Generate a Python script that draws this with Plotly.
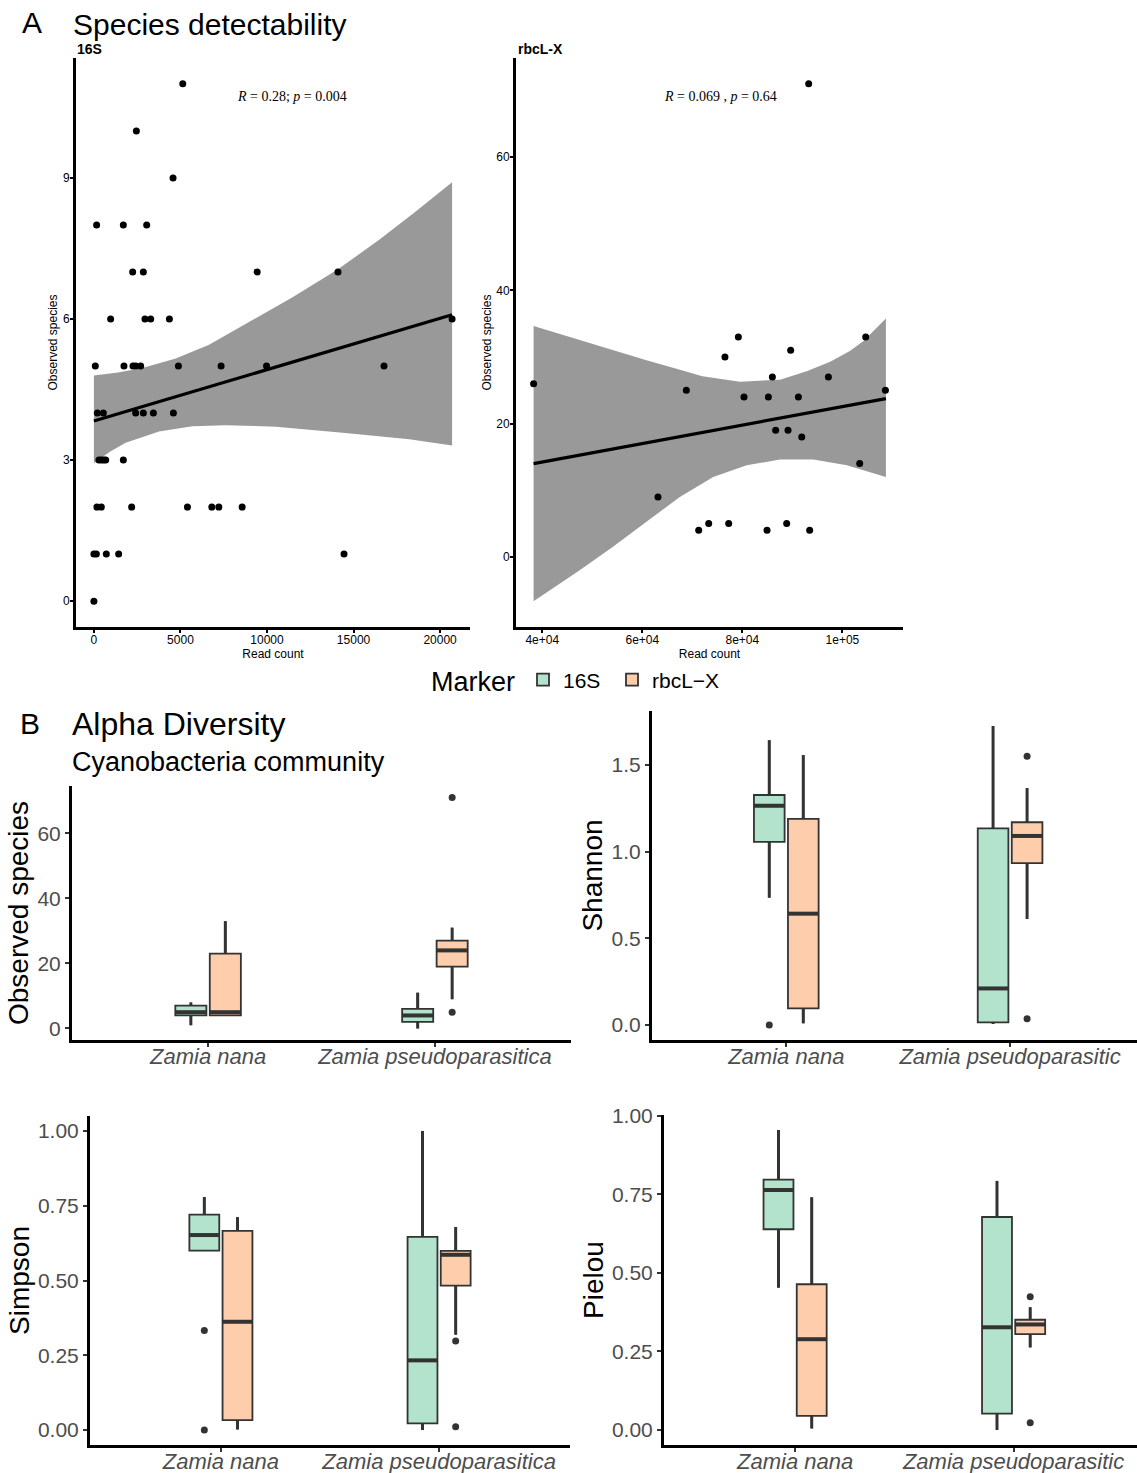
import plotly.graph_objects as go

W, H = 1137, 1473
def fx(x):
    return x / W
def fy(y):
    return 1 - y / H

FONT = "Liberation Sans, Arial, Helvetica, sans-serif"
SERIF = "Liberation Serif, Times New Roman, serif"

# ---------------- Panel A data ----------------
# 16S: read count vs observed species
read_16s = [5133, 2453, 4572, 156, 1700, 3049, 2239, 2856, 9431, 14099,
            966, 2950, 3280, 4362, 20693, 81, 1736, 2257, 2412, 2702,
            4882, 7347, 9973, 16759, 197, 544, 2412, 2856, 3436, 4593,
            290, 430, 560, 680, 1700, 174, 428, 2181, 5403, 6812,
            7217, 8565, 0, 139, 717, 1429, 14450, 0]
obs_16s_pts = [11, 10, 9, 8, 8, 8, 7, 7, 7, 7,
               6, 6, 6, 6, 6, 5, 5, 5, 5, 5,
               5, 5, 5, 5, 4, 4, 4, 4, 4, 4,
               3, 3, 3, 3, 3, 2, 2, 2, 2, 2,
               2, 2, 1, 1, 1, 1, 1, 0]
# fitted line and 95% confidence band
fit_16s_x = [0, 20693]
fit_16s_y = [3.83, 6.09]
band_16s_up_x = [0, 1400, 2800, 4727, 6653, 9007, 11500, 14080, 16500, 18500, 20693]
band_16s_up_y = [4.80, 4.86, 4.96, 5.16, 5.45, 5.95, 6.47, 7.05, 7.69, 8.26, 8.91]
band_16s_lo_x = [0, 900, 1834, 3760, 5692, 7619, 10511, 14370, 18223, 20693]
band_16s_lo_y = [2.93, 3.17, 3.37, 3.61, 3.72, 3.74, 3.71, 3.58, 3.44, 3.31]

# rbcL-X
read_rbcl = [93260, 79200, 76520, 89660, 104660, 86000, 97200, 38260, 68800, 80330,
             85200, 91200, 108600, 86660, 89130, 91870, 103460, 63130, 71270, 73270,
             77270, 84930, 88860, 93460]
obs_rbcl_pts = [71, 33, 30, 31, 33, 27, 27, 26, 25, 24,
                24, 24, 25, 19, 19, 18, 14, 9, 4, 5,
                5, 4, 5, 4]
fit_rbcl_x = [38260, 108700]
fit_rbcl_y = [14.0, 23.76]
band_rbcl_up_x = [38260, 47500, 54000, 60830, 67000, 72000, 79520, 87530, 93000, 97550, 101500, 104220, 108700]
band_rbcl_up_y = [34.65, 32.5, 31.0, 29.5, 28.2, 27.1, 26.3, 26.6, 27.9, 29.3, 30.9, 32.4, 35.76]
band_rbcl_lo_x = [38260, 47470, 54140, 60830, 67500, 74170, 80860, 87530, 94200, 100900, 108700]
band_rbcl_lo_y = [-6.65, -2.0, 1.5, 5.25, 9.0, 12.0, 13.75, 14.6, 14.6, 13.75, 12.0]

stat_16s = "<i>R</i> = 0.28; <i>p</i> = 0.004"
stat_rbcl = "<i>R</i> = 0.069 , <i>p</i> = 0.64"

x16_ticks = [0, 5000, 10000, 15000, 20000]
x16_text = ["0", "5000", "10000", "15000", "20000"]
y16_ticks = [0, 3, 6, 9]
xr_ticks = [40000, 60000, 80000, 100000]
xr_text = ["4e+04", "6e+04", "8e+04", "1e+05"]
yr_ticks = [0, 20, 40, 60]

# ---------------- Panel B data ----------------
species_left = ["Zamia nana", "Zamia pseudoparasitica"]
species_right = ["Zamia nana", "Zamia pseudoparasitic"]
legend_title = "Marker"
marker_names = ["16S", "rbcL\u2212X"]
marker_fill = ["#B3E2CD", "#FDCDAC"]

# per species: [lower whisker, q1, median, q3, upper whisker]
obs_16s = [[1, 4, 5, 7, 8], [0, 2, 4, 6, 11]]
obs_rbcl = [[4, 4, 5, 23, 33], [9, 19, 24, 27, 31]]
obs_16s_out = [[], []]
obs_rbcl_out = [[], [5, 71]]

shannon_16s = [[0.734, 1.056, 1.264, 1.326, 1.642], [0.006, 0.015, 0.211, 1.134, 1.724]]
shannon_rbcl = [[0.010, 0.096, 0.642, 1.188, 1.556], [0.611, 0.933, 1.090, 1.169, 1.366]]
shannon_16s_out = [[0.0], []]
shannon_rbcl_out = [[], [1.55, 0.036]]

simpson_16s = [[0.600, 0.600, 0.652, 0.720, 0.779], [0.0, 0.022, 0.233, 0.646, 1.0]]
simpson_rbcl = [[0.002, 0.033, 0.362, 0.666, 0.712], [0.319, 0.483, 0.586, 0.599, 0.679]]
simpson_16s_out = [[0.333, 0.0], []]
simpson_rbcl_out = [[], [0.298, 0.011]]

pielou_16s = [[0.453, 0.639, 0.764, 0.797, 0.955], [0.0, 0.052, 0.327, 0.678, 0.793]]
pielou_rbcl = [[0.005, 0.045, 0.289, 0.464, 0.741], [0.263, 0.305, 0.336, 0.351, 0.391]]
pielou_16s_out = [[], []]
pielou_rbcl_out = [[], [0.424, 0.023]]

obs_ticks = [0, 20, 40, 60]
obs_ticktext = ["0", "20", "40", "60"]
shannon_ticks = [0, 0.5, 1.0, 1.5]
shannon_ticktext = ["0.0", "0.5", "1.0", "1.5"]
unit_ticks = [0, 0.25, 0.5, 0.75, 1.0]
unit_ticktext = ["0.00", "0.25", "0.50", "0.75", "1.00"]

# ---------------- Figure ----------------
fig = go.Figure()

def expand(vals, frac=0.05):
    lo, hi = min(vals), max(vals)
    d = (hi - lo) * frac
    return [lo - d, hi + d]

# --- Panel A scatter plots
def scatter_panel(xa, ya, rx, ry, fx_, fy_, ux, uy, lx, ly):
    fig.add_trace(go.Scatter(
        x=ux + lx[::-1], y=uy + ly[::-1], fill="toself", fillcolor="#999999",
        line=dict(width=0), mode="lines", showlegend=False, hoverinfo="skip",
        xaxis=xa, yaxis=ya))
    fig.add_trace(go.Scatter(
        x=rx, y=ry, mode="markers", marker=dict(color="black", size=7),
        showlegend=False, xaxis=xa, yaxis=ya))
    fig.add_trace(go.Scatter(
        x=fx_, y=fy_, mode="lines", line=dict(color="black", width=3.2),
        showlegend=False, xaxis=xa, yaxis=ya))

scatter_panel("x", "y", read_16s, obs_16s_pts, fit_16s_x, fit_16s_y,
              band_16s_up_x, band_16s_up_y, band_16s_lo_x, band_16s_lo_y)
scatter_panel("x2", "y2", read_rbcl, obs_rbcl_pts, fit_rbcl_x, fit_rbcl_y,
              band_rbcl_up_x, band_rbcl_up_y, band_rbcl_lo_x, band_rbcl_lo_y)

# --- Panel B boxplots
DODGE = 0.076
BOXW = 0.137
legend_ids = ["legend", "legend2"]
box_panels = [
    ("x3", "y3", obs_16s, obs_rbcl, obs_16s_out, obs_rbcl_out),
    ("x4", "y4", shannon_16s, shannon_rbcl, shannon_16s_out, shannon_rbcl_out),
    ("x5", "y5", simpson_16s, simpson_rbcl, simpson_16s_out, simpson_rbcl_out),
    ("x6", "y6", pielou_16s, pielou_rbcl, pielou_16s_out, pielou_rbcl_out),
]
yranges = []
for pi, (xa, ya, s16, srb, o16, orb) in enumerate(box_panels):
    allv = []
    for mi, (stats, outs) in enumerate([(s16, o16), (srb, orb)]):
        off = -DODGE if mi == 0 else DODGE
        pos = [ci + 1 + off for ci in range(len(stats))]
        # whiskers (thick, drawn first)
        wx, wy = [], []
        for ci, s in enumerate(stats):
            wx += [pos[ci], pos[ci], None, pos[ci], pos[ci], None]
            wy += [s[3], s[4], None, s[1], s[0], None]
        fig.add_trace(go.Scatter(
            x=wx, y=wy, mode="lines", line=dict(color="#333333", width=3),
            showlegend=False, xaxis=xa, yaxis=ya, hoverinfo="skip"))
        fig.add_trace(go.Box(
            x=pos,
            lowerfence=[s[0] for s in stats], q1=[s[1] for s in stats],
            median=[s[2] for s in stats], q3=[s[3] for s in stats],
            upperfence=[s[4] for s in stats],
            width=BOXW, whiskerwidth=0, boxpoints=False,
            fillcolor=marker_fill[mi], line=dict(color="#333333", width=1.8),
            name=marker_names[mi], legendgroup=marker_names[mi],
            legend=legend_ids[mi],
            showlegend=(pi == 0), xaxis=xa, yaxis=ya, hoverinfo="skip"))
        for ci, s in enumerate(stats):
            fig.add_trace(go.Scatter(
                x=[pos[ci] - BOXW / 2, pos[ci] + BOXW / 2], y=[s[2], s[2]],
                mode="lines", line=dict(color="#333333", width=4),
                showlegend=False, xaxis=xa, yaxis=ya, hoverinfo="skip"))
            allv += s
        ox, oy = [], []
        for ci, o in enumerate(outs):
            ox += [pos[ci]] * len(o)
            oy += o
            allv += o
        if ox:
            fig.add_trace(go.Scatter(
                x=ox, y=oy, mode="markers", marker=dict(color="#333333", size=7),
                showlegend=False, xaxis=xa, yaxis=ya, hoverinfo="skip"))
    yranges.append(expand(allv))

# --- Axes
top_tick_font = dict(family=FONT, size=12, color="black")
top_title_font = dict(family=FONT, size=12, color="black")
bot_tick_font = dict(family=FONT, size=21, color="#4D4D4D")
bot_cat_font = dict(family=FONT, size=22, color="#4D4D4D")
bot_title_font = dict(family=FONT, size=28, color="black")

def ax_common(**kw):
    d = dict(showgrid=False, zeroline=False, showline=True, linecolor="black",
             ticks="outside", mirror=False, automargin=False)
    d.update(kw)
    return d

layout = dict(
    width=W, height=H, autosize=False,
    margin=dict(l=0, r=0, t=0, b=0, pad=0),
    paper_bgcolor="white", plot_bgcolor="white",
    font=dict(family=FONT, color="black"),
    boxmode="overlay",
    showlegend=True,
)

# Panel A axes
layout["xaxis"] = ax_common(domain=[fx(76), fx(470)], anchor="y",
    range=expand(read_16s), tickvals=x16_ticks, ticktext=x16_text,
    linewidth=3, tickwidth=1.5, ticklen=3, tickcolor="black", tickfont=top_tick_font,
    ticklabelstandoff=-3,
    title=dict(text="Read count", font=top_title_font, standoff=1))
layout["yaxis"] = ax_common(domain=[fy(627), fy(58)], anchor="x",
    range=expand(obs_16s_pts), tickvals=y16_ticks,
    linewidth=3, tickwidth=1.5, ticklen=3, tickcolor="black", tickfont=top_tick_font,
    ticklabelstandoff=-2,
    title=dict(text="Observed species", font=top_title_font, standoff=3))
layout["xaxis2"] = ax_common(domain=[fx(516), fx(903)], anchor="y2",
    range=expand(read_rbcl), tickvals=xr_ticks, ticktext=xr_text,
    linewidth=3, tickwidth=1.5, ticklen=3, tickcolor="black", tickfont=top_tick_font,
    ticklabelstandoff=-3,
    title=dict(text="Read count", font=top_title_font, standoff=1))
layout["yaxis2"] = ax_common(domain=[fy(627), fy(58)], anchor="x2",
    range=expand(obs_rbcl_pts + band_rbcl_lo_y), tickvals=yr_ticks,
    linewidth=3, tickwidth=1.5, ticklen=3, tickcolor="black", tickfont=top_tick_font,
    ticklabelstandoff=-2,
    title=dict(text="Observed species", font=top_title_font, standoff=3))

# Panel B axes
bx_domains = [
    ([72, 571], [1040, 786], [0.4, 2.6], species_left, "Observed species", obs_ticks, obs_ticktext),
    ([652, 1137], [1040, 711], [0.4, 0.4 + (1137 - 652) / 223.8], species_right, "Shannon", shannon_ticks, shannon_ticktext),
    ([90, 570], [1445, 1116], [0.4, 2.6], species_left, "Simpson", unit_ticks, unit_ticktext),
    ([664, 1137], [1445, 1115], [0.4, 0.4 + (1137 - 664) / 218.5], species_right, "Pielou", unit_ticks, unit_ticktext),
]
for i, (dx, dy, xr, cats, ttl, tv, tt) in enumerate(bx_domains):
    n = i + 3
    layout[f"xaxis{n}"] = ax_common(domain=[fx(dx[0]), fx(dx[1])], anchor=f"y{n}",
        range=xr, tickvals=[1, 2], ticktext=[f"<i>{c}</i>" for c in cats],
        linewidth=3, tickwidth=2, ticklen=4, tickcolor="#333333", tickfont=bot_cat_font,
        ticklabelstandoff=-9)
    layout[f"yaxis{n}"] = ax_common(domain=[fy(dy[0]), fy(dy[1])], anchor=f"x{n}",
        range=yranges[i], tickvals=tv, ticktext=tt,
        linewidth=3, tickwidth=2, ticklen=4, tickcolor="#333333", tickfont=bot_tick_font,
        title=dict(text=ttl, font=bot_title_font, standoff=1))

layout["legend"] = dict(
    orientation="h", x=fx(523), xanchor="left", y=fy(680), yanchor="middle",
    font=dict(family=FONT, size=21, color="black"), bgcolor="rgba(0,0,0,0)",
    itemwidth=30, tracegroupgap=0)
layout["legend2"] = dict(
    orientation="h", x=fx(612), xanchor="left", y=fy(680), yanchor="middle",
    font=dict(family=FONT, size=21, color="black"), bgcolor="rgba(0,0,0,0)",
    itemwidth=30, tracegroupgap=0)

ann = []
def text(x, y, s, size, xanchor="left", family=FONT, color="black"):
    ann.append(dict(x=fx(x), y=fy(y), xref="paper", yref="paper", text=s,
                    showarrow=False, xanchor=xanchor, yanchor="middle",
                    font=dict(family=family, size=size, color=color)))

text(20, 22, "A", 30)
text(71, 24, "Species detectability", 30)
text(75, 49, "<b>16S</b>", 14)
text(516, 49, "<b>rbcL-X</b>", 14)
text(292, 97, stat_16s, 14, xanchor="center", family=SERIF)
text(720, 97, stat_rbcl, 14, xanchor="center", family=SERIF)
text(429, 682, legend_title, 27)
text(18, 724, "B", 30)
text(70, 724, "Alpha Diversity", 32)
text(70, 762, "Cyanobacteria community", 27)
layout["annotations"] = ann

fig.update_layout(**layout)

fig.write_html("out.html", config={"displayModeBar": False},
               post_script="document.body.style.margin='0';")
